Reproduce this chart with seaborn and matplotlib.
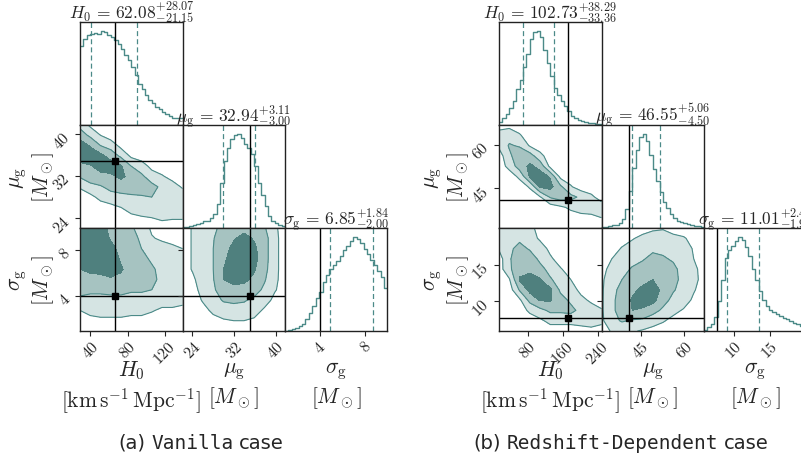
"""Two corner plots (posterior of H0, mu_g, sigma_g) side by side."""

import matplotlib

matplotlib.use("Agg")

import matplotlib.pyplot as plt
import numpy as np
import pandas as pd
import seaborn as sns
from matplotlib.ticker import FixedLocator, FuncFormatter, NullFormatter

# ---------------------------------------------------------------- data
# axis ranges (x and y share the same range for a parameter)
RANGE_L = [(29.0, 139.0), (22.1, 41.8), (0.9, 9.95)]
RANGE_R = [(14.0, 249.0), (31.5, 66.7), (5.9, 20.1)]
TICKS_L = [[40, 80, 120], [24, 32, 40], [4, 8]]
TICKS_R = [[80, 160, 240], [45, 60], [10, 15]]
TRUTH_L = [67.0, 35.0, 4.0]
TRUTH_R = [172.0, 40.9, 7.75]

# median, +err, -err shown in the titles
MED_L = [62.08, 32.94, 6.85]
UP_L = [28.07, 3.11, 1.84]
LO_L = [21.15, 3.00, 2.00]
MED_R = [102.73, 46.55, 11.01]
UP_R = [38.29, 5.06, 2.48]
LO_R = [33.36, 4.50, 1.91]

# marginal histograms (relative heights, 30 bins across each axis range)
HIST_H0_L = [0.84, 0.92, 0.96, 0.97, 0.98, 0.97, 1.00, 0.99, 0.96, 0.94, 0.91, 0.86, 0.81, 0.75, 0.69,
             0.62, 0.53, 0.44, 0.38, 0.32, 0.27, 0.23, 0.19, 0.17, 0.14, 0.12, 0.10, 0.08, 0.07, 0.07]
HIST_MU_L = [0.01, 0.01, 0.02, 0.03, 0.04, 0.05, 0.07, 0.08, 0.11, 0.15, 0.26, 0.48, 0.72, 0.85, 0.95,
             0.99, 1.00, 0.96, 0.90, 0.85, 0.79, 0.66, 0.48, 0.35, 0.23, 0.13, 0.08, 0.05, 0.03, 0.02]
HIST_SIG_L = [0.00, 0.01, 0.02, 0.03, 0.05, 0.08, 0.13, 0.19, 0.27, 0.35, 0.42, 0.52, 0.60, 0.66, 0.70,
              0.75, 0.80, 0.86, 0.91, 0.96, 1.00, 0.98, 0.94, 0.88, 0.82, 0.76, 0.70, 0.64, 0.58, 0.46]
HIST_H0_R = [0.03, 0.07, 0.12, 0.18, 0.26, 0.38, 0.48, 0.62, 0.76, 0.92, 0.99, 1.00, 0.94, 0.80, 0.66,
             0.52, 0.40, 0.32, 0.26, 0.20, 0.15, 0.10, 0.07, 0.05, 0.04, 0.03, 0.02, 0.02, 0.01, 0.01]
HIST_MU_R = [0.01, 0.01, 0.02, 0.03, 0.03, 0.05, 0.10, 0.20, 0.40, 0.64, 0.83, 0.97, 1.00, 0.93, 0.78,
             0.63, 0.50, 0.38, 0.28, 0.21, 0.15, 0.11, 0.08, 0.06, 0.05, 0.04, 0.03, 0.02, 0.02, 0.01]
HIST_SIG_R = [0.01, 0.04, 0.07, 0.15, 0.32, 0.55, 0.78, 0.86, 0.91, 0.96, 1.00, 0.97, 0.90, 0.80, 0.66,
              0.55, 0.43, 0.33, 0.27, 0.22, 0.20, 0.18, 0.16, 0.14, 0.13, 0.11, 0.09, 0.07, 0.05, 0.04]

# 2D credible-region level on an 11x11 grid.
# Each inner list is one column (left -> right), values from top to bottom.
# 0 = outside, 1 = outer region, 2 = middle region, 3 = inner region
LEV_H0_MU_L = [
    [1.2, 2.0, 3.2, 3.0, 2.2, 1.6, 0.6, 0, 0, 0, 0],
    [0.3, 1.3, 2.4, 3.2, 2.4, 2.0, 1.2, 0.2, 0, 0, 0],
    [0, 0.5, 1.5, 2.8, 2.9, 2.2, 1.4, 0.8, 0, 0, 0],
    [0, 0, 1.1, 2.1, 3.0, 2.3, 1.8, 1.1, 0.2, 0, 0],
    [0, 0, 0.2, 1.3, 2.6, 2.7, 2.0, 1.2, 0.5, 0, 0],
    [0, 0, 0, 0.3, 1.5, 2.2, 2.1, 1.3, 1.0, 0.2, 0],
    [0, 0, 0, 0, 1.0, 1.7, 2.0, 1.4, 1.1, 0.4, 0],
    [0, 0, 0, 0, 0.2, 1.0, 1.8, 1.5, 1.1, 0.5, 0],
    [0, 0, 0, 0, 0, 0.6, 1.3, 1.2, 1.0, 0.7, 0],
    [0, 0, 0, 0, 0, 0.2, 0.9, 1.0, 1.0, 0.6, 0],
    [0, 0, 0, 0, 0, 0, 0.4, 1.0, 1.0, 0.6, 0],
]
LEV_H0_SIG_L = [
    [3.3, 3.3, 3.2, 3.0, 2.5, 2.2, 1.8, 1.3, 0.5, 0, 0],
    [3.2, 3.3, 3.2, 3.0, 2.7, 2.2, 1.7, 1.2, 0.8, 0.2, 0],
    [2.8, 3.1, 3.1, 3.0, 2.8, 2.2, 1.7, 1.2, 0.9, 0.3, 0],
    [2.3, 2.4, 2.8, 3.0, 2.9, 2.4, 1.8, 1.2, 0.9, 0.3, 0],
    [2.0, 2.1, 2.2, 2.4, 2.6, 2.3, 1.8, 1.2, 0.9, 0.3, 0],
    [1.6, 1.9, 2.0, 2.1, 2.1, 2.0, 1.6, 1.2, 0.8, 0.2, 0],
    [1.2, 1.3, 1.5, 1.7, 1.9, 1.8, 1.6, 1.2, 0.8, 0.2, 0],
    [0.3, 0.6, 1.1, 1.4, 1.6, 1.6, 1.5, 1.1, 0.6, 0, 0],
    [0, 0.3, 1.0, 1.2, 1.3, 1.4, 1.2, 1.0, 0.3, 0, 0],
    [0, 0.2, 0.7, 1.1, 1.2, 1.2, 1.1, 1.0, 0.3, 0, 0],
    [0, 0.1, 0.5, 1.0, 1.1, 1.1, 1.1, 0.8, 0.2, 0, 0],
]
LEV_MU_SIG_L = [
    [0, 0, 0, 0, 0, 0, 0, 0, 0, 0, 0],
    [0.6, 0.6, 0.6, 0.6, 0.6, 0.3, 0, 0, 0, 0, 0],
    [1.0, 1.0, 1.1, 1.2, 1.2, 1.1, 1.0, 0.6, 0.2, 0, 0],
    [1.3, 1.45, 1.5, 1.5, 1.5, 1.45, 1.3, 1.1, 0.7, 0.2, 0],
    [1.8, 2.0, 2.1, 2.3, 2.5, 2.5, 2.2, 1.6, 1.0, 0.4, 0],
    [2.0, 2.4, 2.8, 3.0, 3.0, 2.8, 2.2, 1.7, 1.1, 0.5, 0],
    [2.2, 2.8, 3.1, 3.1, 3.0, 2.7, 2.2, 1.6, 1.1, 0.5, 0],
    [2.1, 2.4, 2.7, 2.8, 2.6, 2.3, 1.9, 1.3, 1.0, 0.3, 0],
    [1.6, 1.9, 1.9, 1.9, 1.8, 1.6, 1.3, 1.0, 0.3, 0, 0],
    [0.7, 0.8, 0.8, 0.8, 0.8, 0.75, 0.6, 0.2, 0, 0, 0],
    [0, 0, 0, 0, 0, 0, 0, 0, 0, 0, 0],
]
LEV_H0_MU_R = [
    [0, 1.0, 0.7, 0, 0, 0, 0, 0, 0, 0, 0],
    [0.2, 1.1, 1.6, 1.3, 0.8, 0, 0, 0, 0, 0, 0],
    [0, 0.6, 1.4, 2.1, 2.0, 0.7, 0, 0, 0, 0, 0],
    [0, 0, 0.4, 2.0, 2.7, 2.6, 0.6, 0, 0, 0, 0],
    [0, 0, 0, 0.8, 2.2, 2.9, 2.6, 0.4, 0, 0, 0],
    [0, 0, 0, 0, 0.2, 2.4, 2.8, 1.6, 0, 0, 0],
    [0, 0, 0, 0, 0, 0.2, 1.7, 2.0, 0.3, 0, 0],
    [0, 0, 0, 0, 0, 0, 0.6, 1.8, 0.7, 0, 0],
    [0, 0, 0, 0, 0, 0, 0, 1.3, 1.2, 0, 0],
    [0, 0, 0, 0, 0, 0, 0, 0.7, 1.1, 0.2, 0],
    [0, 0, 0, 0, 0, 0, 0, 0.1, 1.0, 0.5, 0],
]
LEV_H0_SIG_R = [
    [1.0, 1.0, 0.6, 0, 0, 0, 0, 0, 0, 0, 0],
    [1.0, 1.1, 1.3, 1.4, 1.3, 0.4, 0, 0, 0, 0, 0],
    [1.0, 1.3, 1.8, 2.0, 2.2, 2.6, 1.6, 0.3, 0, 0, 0],
    [0.9, 1.1, 1.4, 2.0, 2.3, 2.8, 2.8, 1.8, 0.7, 0, 0],
    [0, 0.3, 1.1, 1.3, 1.8, 2.6, 2.8, 2.6, 1.2, 0.3, 0],
    [0, 0, 0.2, 0.7, 1.2, 1.6, 2.7, 2.6, 1.7, 0.8, 0],
    [0, 0, 0, 0, 0.6, 1.1, 1.3, 1.9, 1.7, 0.8, 0],
    [0, 0, 0, 0, 0, 0.5, 1.0, 1.3, 1.8, 0.8, 0],
    [0, 0, 0, 0, 0, 0, 0.2, 0.8, 1.2, 1.0, 0],
    [0, 0, 0, 0, 0, 0, 0, 0.3, 1.0, 1.0, 0.2],
    [0, 0, 0, 0, 0, 0, 0, 0, 0.6, 0.8, 0],
]
LEV_MU_SIG_R = [
    [0, 0, 0, 0, 0, 0.3, 0.35, 0.35, 0.35, 0.3, 0],
    [0, 0, 0, 0.5, 1.0, 1.1, 1.2, 1.3, 1.3, 1.2, 0.6],
    [0, 0, 0.6, 1.0, 1.2, 1.5, 1.8, 1.9, 1.9, 1.6, 0.8],
    [0, 0.4, 1.0, 1.2, 1.6, 2.0, 2.3, 2.6, 2.5, 1.4, 0.6],
    [0, 0.8, 1.1, 1.4, 1.9, 2.2, 2.7, 2.8, 2.4, 1.3, 0.4],
    [0.3, 1.0, 1.3, 1.8, 2.1, 2.5, 2.9, 2.8, 1.9, 0.9, 0.2],
    [0.4, 1.0, 1.3, 1.6, 2.0, 2.2, 2.3, 1.9, 1.3, 0.6, 0],
    [0.2, 0.7, 1.2, 1.4, 1.7, 1.8, 1.6, 1.2, 0.8, 0.2, 0],
    [0, 0.6, 1.0, 1.1, 1.2, 1.2, 1.1, 1.0, 0.4, 0, 0],
    [0, 0.2, 0.4, 0.5, 0.8, 0.9, 0.6, 0.3, 0, 0, 0],
    [0, 0, 0, 0, 0, 0, 0, 0, 0, 0, 0],
]

PARAM_SYMBOLS = [r"H_0", r"\mu_{\rm g}", r"\sigma_{\rm g}"]
AXIS_LABELS = [
    "$H_0$\n$[\\mathrm{km\\,s^{-1}\\,Mpc^{-1}}]$",
    "$\\mu_{\\rm g}$\n$[M_\\odot]$",
    "$\\sigma_{\\rm g}$\n$[M_\\odot]$",
]

TEAL = "#4b8a88"
FILL_COLORS = ["#d5e4e3", "#a6c3c1", "#4f807e"]

W, H = 801, 460
PANEL_W, PANEL_H = 102.5, 103.0
ROWS_Y = [23.0, 126.0, 229.0]


def add_panel(fig, x0, y0):
    return fig.add_axes([x0 / W, 1 - (y0 + PANEL_H) / H, PANEL_W / W, PANEL_H / H])


def style_axis(ax, xticks, yticks, show_x, show_y):
    fmt = FuncFormatter(lambda v, _: f"${v:g}$")
    ax.xaxis.set_major_locator(FixedLocator(xticks))
    ax.xaxis.set_major_formatter(fmt if show_x else NullFormatter())
    if yticks is None:
        ax.set_yticks([])
    else:
        ax.yaxis.set_major_locator(FixedLocator(yticks))
        ax.yaxis.set_major_formatter(fmt if show_y else NullFormatter())
    ax.tick_params(direction="out", length=3.5, width=0.8, labelsize=11.5, pad=1)
    for lab in ax.get_xticklabels() + ax.get_yticklabels():
        lab.set_rotation(45)
    for sp in ax.spines.values():
        sp.set_visible(True)
        sp.set_linewidth(1.0)
        sp.set_color("#222222")
    ax.set_xlabel("")
    ax.set_ylabel("")


def draw_corner(fig, cols_x, ranges, ticks, truths, meds, ups, los, hists, levels, ylab_x):
    axes = {}
    for i in range(3):
        for j in range(i + 1):
            axes[(i, j)] = add_panel(fig, cols_x[j], ROWS_Y[i])

    for i in range(3):
        ax = axes[(i, i)]
        lo, hi = ranges[i]
        heights = np.asarray(hists[i], dtype=float)
        edges = np.linspace(lo, hi, len(heights) + 1)
        frame = pd.DataFrame({"value": 0.5 * (edges[1:] + edges[:-1]), "height": heights})
        sns.histplot(data=frame, x="value", weights="height", bins=list(edges), element="step",
                     fill=False, color=TEAL, linewidth=1.0, ax=ax)
        ax.set_xlim(lo, hi)
        ax.set_ylim(0, 1.1 * heights.max())
        for q in (meds[i] - los[i], meds[i] + ups[i]):
            ax.axvline(q, color=TEAL, ls=(0, (4, 2.5)), lw=0.9)
        ax.axvline(truths[i], color="black", lw=1.0)
        title = (f"${PARAM_SYMBOLS[i]}\\,=\\,{meds[i]:.2f}"
                 f"^{{+{ups[i]:.2f}}}_{{-{los[i]:.2f}}}$")
        # baseline a few pixels above the panel, subscript touching the frame
        ax.text(0.5, 1 + 4.0 / PANEL_H, title, transform=ax.transAxes, ha="center",
                va="baseline", fontsize=12.5)
        style_axis(ax, ticks[i], None, i == 2, False)

    for (i, j), key in zip([(1, 0), (2, 0), (2, 1)], ["xy10", "xy20", "xy21"]):
        ax = axes[(i, j)]
        (xlo, xhi), (ylo, yhi) = ranges[j], ranges[i]
        grid = np.array(levels[key], dtype=float).T[::-1]
        gx = np.linspace(xlo, xhi, grid.shape[1])
        gy = np.linspace(ylo, yhi, grid.shape[0])
        ax.contourf(gx, gy, grid, levels=[0.5, 1.5, 2.5, 10], colors=FILL_COLORS)
        ax.contour(gx, gy, grid, levels=[0.5, 1.5], colors=TEAL, linewidths=0.8)
        ax.axvline(truths[j], color="black", lw=1.0)
        ax.axhline(truths[i], color="black", lw=1.0)
        ax.plot(truths[j], truths[i], "s", color="black", ms=4.5)
        ax.set_xlim(xlo, xhi)
        ax.set_ylim(ylo, yhi)
        style_axis(ax, ticks[j], ticks[i], i == 2, j == 0)
        if j == 0:
            ax.set_ylabel(AXIS_LABELS[i], fontsize=15.5, linespacing=1.1)
            ax.yaxis.set_label_coords(ylab_x, 0.5)

    for j in range(3):
        ax = axes[(2, j)]
        ax.set_xlabel(AXIS_LABELS[j], fontsize=15.5, linespacing=1.2)
        ax.xaxis.set_label_coords(0.5, -0.27)
    return axes


def caption(fig, segments, xc, yb, size=14):
    renderer = fig.canvas.get_renderer()
    texts = [fig.text(0, 1 - yb / H, s, family=f, fontsize=size, va="baseline") for s, f in segments]
    widths = [t.get_window_extent(renderer).width for t in texts]
    gap = 0.3 * size * fig.dpi / 72
    total = sum(widths) + gap * (len(texts) - 1)
    x = xc - total / 2
    for t, w in zip(texts, widths):
        t.set_x(x / W)
        x += w + gap


sns.set_style("ticks")
plt.rcParams["font.family"] = ["DejaVu Serif"]
plt.rcParams["mathtext.fontset"] = "cm"

fig = plt.figure(figsize=(W / 100, H / 100), dpi=100)

draw_corner(fig, [80.0, 182.5, 285.0], RANGE_L, TICKS_L, TRUTH_L, MED_L, UP_L, LO_L,
            [HIST_H0_L, HIST_MU_L, HIST_SIG_L],
            {"xy10": LEV_H0_MU_L, "xy20": LEV_H0_SIG_L, "xy21": LEV_MU_SIG_L}, -0.23)
draw_corner(fig, [499.0, 601.5, 704.0], RANGE_R, TICKS_R, TRUTH_R, MED_R, UP_R, LO_R,
            [HIST_H0_R, HIST_MU_R, HIST_SIG_R],
            {"xy10": LEV_H0_MU_R, "xy20": LEV_H0_SIG_R, "xy21": LEV_MU_SIG_R}, -0.27)

caption(fig, [("(a)", "DejaVu Sans"), ("Vanilla", "DejaVu Sans Mono"), ("case", "DejaVu Sans")], 201, 449)
caption(fig, [("(b)", "DejaVu Sans"), ("Redshift-Dependent", "DejaVu Sans Mono"), ("case", "DejaVu Sans")],
        621, 449)

fig.savefig("out.png", dpi=100)
